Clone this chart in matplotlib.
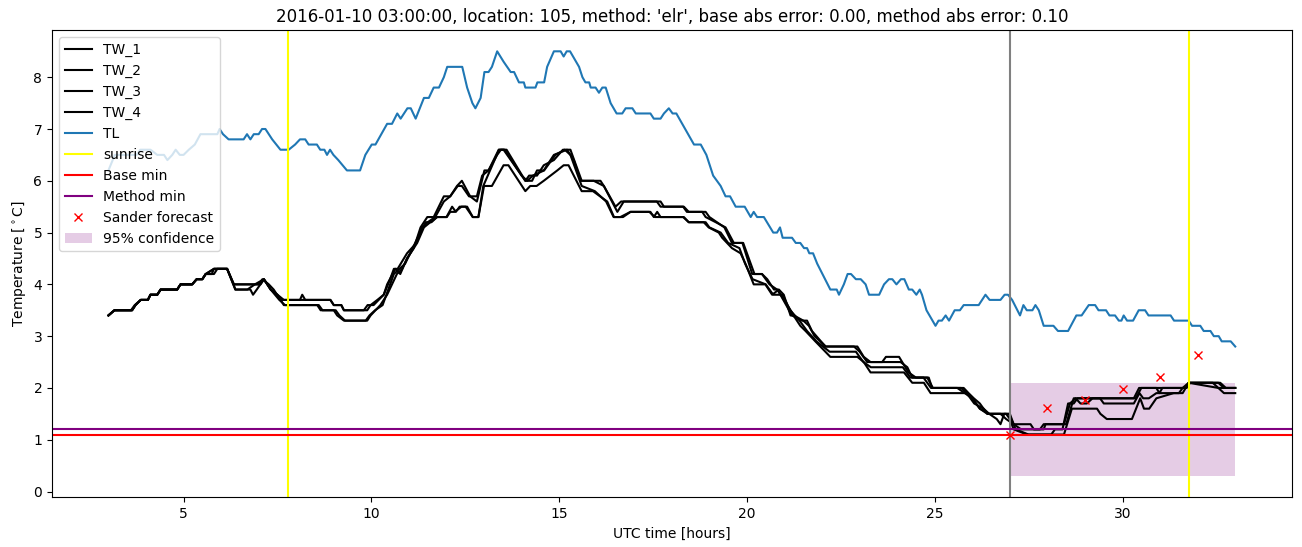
import matplotlib
matplotlib.use("Agg")
import matplotlib.pyplot as plt
from matplotlib.ticker import MultipleLocator

# TL (air temperature): hours, value
tl_hours = [3.0, 3.17, 3.75, 3.85, 4.12, 4.3, 4.48, 4.57, 4.7, 4.79, 4.9, 5.0, 5.14, 5.3, 5.45, 5.9, 5.96, 6.05,
            6.2, 6.6, 6.69, 6.78, 6.87, 7.0, 7.09, 7.18, 7.36, 7.58, 7.8, 7.97, 8.1, 8.24, 8.33, 8.55, 8.64, 8.75,
            8.82, 8.9, 8.99, 9.12, 9.35, 9.7, 9.84, 10.01, 10.11, 10.42, 10.55, 10.69, 10.78, 10.96, 11.05, 11.18,
            11.4, 11.53, 11.66, 11.8, 11.93, 12.02, 12.42, 12.55, 12.69, 12.77, 12.91, 13.01, 13.12, 13.21, 13.35,
            13.52, 13.71, 13.8, 13.93, 14.06, 14.1, 14.37, 14.42, 14.6, 14.68, 14.86, 15.04, 15.12, 15.2, 15.29,
            15.53, 15.62, 15.7, 15.8, 15.84, 15.97, 16.06, 16.15, 16.24, 16.37, 16.53, 16.68, 16.77, 16.95, 17.04,
            17.43, 17.52, 17.7, 17.79, 17.92, 18.02, 18.12, 18.59, 18.77, 18.92, 19.1, 19.3, 19.43, 19.55, 19.7,
            19.94, 20.1, 20.18, 20.27, 20.45, 20.7, 20.8, 20.88, 20.95, 21.2, 21.3, 21.42, 21.52, 21.6, 21.66,
            21.76, 21.87, 22.22, 22.39, 22.45, 22.58, 22.68, 22.77, 22.9, 23.03, 23.16, 23.25, 23.52, 23.65, 23.78,
            23.87, 23.98, 24.1, 24.19, 24.31, 24.4, 24.51, 24.6, 24.66, 24.78, 25.02, 25.1, 25.19, 25.29, 25.38,
            25.53, 25.67, 25.77, 26.17, 26.35, 26.46, 26.75, 26.86, 26.95, 27.06, 27.27, 27.36, 27.45, 27.6, 27.68,
            27.77, 27.9, 28.16, 28.28, 28.55, 28.77, 28.91, 29.1, 29.27, 29.36, 29.56, 29.65, 29.8, 29.9, 29.97,
            30.03, 30.12, 30.28, 30.43, 30.6, 30.69, 31.28, 31.37, 31.76, 31.85, 32.07, 32.16, 32.34, 32.43, 32.56,
            32.64, 32.88, 33.0]
tl_values = [6.2, 6.5, 6.5, 6.6, 6.6, 6.5, 6.5, 6.4, 6.5, 6.6, 6.5, 6.5, 6.6, 6.7, 6.9, 6.9, 7.0, 6.9,
             6.8, 6.8, 6.9, 6.8, 6.9, 6.9, 7.0, 7.0, 6.8, 6.6, 6.6, 6.7, 6.8, 6.8, 6.7, 6.7, 6.6, 6.6,
             6.5, 6.6, 6.5, 6.4, 6.2, 6.2, 6.5, 6.7, 6.7, 7.1, 7.1, 7.3, 7.2, 7.4, 7.4, 7.2,
             7.6, 7.6, 7.8, 7.8, 8.0, 8.2, 8.2, 7.8, 7.5, 7.4, 7.6, 8.1, 8.1, 8.2, 8.5,
             8.3, 8.1, 8.1, 7.9, 7.9, 7.8, 7.8, 7.9, 7.9, 8.2, 8.5, 8.5, 8.4, 8.5, 8.5,
             8.2, 8.0, 7.9, 7.9, 7.8, 7.8, 7.7, 7.8, 7.8, 7.5, 7.3, 7.3, 7.4, 7.4, 7.3,
             7.3, 7.2, 7.2, 7.3, 7.4, 7.3, 7.3, 6.7, 6.7, 6.5, 6.1, 5.9, 5.7, 5.7, 5.5,
             5.5, 5.3, 5.4, 5.3, 5.3, 5.0, 5.0, 5.1, 4.9, 4.9, 4.8, 4.8, 4.7, 4.7, 4.6,
             4.6, 4.4, 3.9, 3.9, 3.8, 4.0, 4.2, 4.2, 4.1, 4.1, 4.0, 3.8, 3.8, 4.0, 4.1,
             4.1, 4.0, 4.1, 4.1, 3.9, 3.9, 3.8, 3.9, 3.8, 3.5, 3.2, 3.3, 3.3, 3.4, 3.3,
             3.5, 3.5, 3.6, 3.6, 3.8, 3.7, 3.7, 3.8, 3.8, 3.7, 3.4, 3.6, 3.5, 3.5, 3.6,
             3.5, 3.2, 3.2, 3.1, 3.1, 3.4, 3.4, 3.6, 3.6, 3.5, 3.5, 3.4, 3.4, 3.3, 3.3,
             3.4, 3.3, 3.3, 3.5, 3.5, 3.4, 3.4, 3.3, 3.3, 3.2, 3.2, 3.1, 3.1, 3.0, 3.0,
             2.9, 2.9, 2.8]

# TW_1 .. TW_4 (road surface sensors)
tw1_hours = [3.0, 3.16, 3.63, 3.72, 3.86, 4.05, 4.12, 4.3, 4.39, 4.83, 4.92, 5.23, 5.35, 5.5, 5.59, 5.75, 5.81,
             6.16, 6.34, 7.05, 7.14, 7.32, 7.5, 7.67, 8.1, 8.16, 8.24, 8.91, 9.0, 9.2, 9.27, 9.89, 9.98, 10.16,
             10.33, 10.42, 10.64, 10.77, 10.95, 11.13, 11.31, 11.49, 11.66, 11.93, 12.1, 12.28, 12.41, 12.63,
             12.81, 13.01, 13.12, 13.39, 13.52, 14.1, 14.28, 14.41, 14.59, 14.86, 15.21, 15.39, 15.57, 15.92,
             16.19, 16.55, 16.72, 17.7, 17.79, 18.32, 18.45, 18.81, 18.9, 19.17, 19.43, 19.65, 19.88, 20.01,
             20.14, 20.4, 20.54, 20.72, 20.82, 20.89, 21.2, 21.47, 21.6, 21.73, 22.09, 22.94, 23.11, 23.29,
             24.09, 24.27, 24.4, 24.84, 24.93, 25.77, 25.9, 26.04, 26.2, 26.3, 26.4, 26.97, 27.1, 27.55, 27.64,
             27.9, 27.95, 28.44, 28.6, 28.75, 28.88, 29.05, 29.2, 30.3, 30.44, 30.9, 30.98, 31.06, 31.7, 31.76,
             32.55, 32.7, 33.0]
tw1_values = [3.4, 3.5, 3.5, 3.6, 3.7, 3.7, 3.8, 3.8, 3.9, 3.9, 4.0, 4.0, 4.1, 4.1, 4.2, 4.2, 4.3,
              4.3, 4.0, 4.0, 4.1, 3.9, 3.8, 3.7, 3.7, 3.8, 3.7, 3.7, 3.6, 3.6, 3.5, 3.5, 3.6, 3.7,
              3.8, 4.0, 4.3, 4.2, 4.5, 4.7, 5.1, 5.3, 5.3, 5.7, 5.7, 5.9, 6.0, 5.7,
              5.6, 6.2, 6.2, 6.6, 6.6, 6.0, 6.0, 6.2, 6.2, 6.5, 6.6, 6.4, 6.0, 6.0,
              5.9, 5.4, 5.6, 5.6, 5.5, 5.5, 5.4, 5.4, 5.3, 5.2, 5.1, 4.8, 4.8, 4.5,
              4.2, 4.2, 4.1, 3.9, 3.9, 3.8, 3.4, 3.3, 3.3, 3.1, 2.8, 2.8, 2.6, 2.5,
              2.5, 2.4, 2.2, 2.2, 2.0, 2.0, 1.9, 1.8, 1.7, 1.6, 1.5, 1.5, 1.3, 1.3, 1.2,
              1.2, 1.3, 1.3, 1.7, 1.8, 1.7, 1.7, 1.8, 1.8, 2.0, 2.0, 1.9, 2.0, 2.0, 2.1,
              2.1, 2.0, 2.0]

tw2_hours = [3.0, 3.16, 3.6, 3.7, 3.86, 4.05, 4.12, 4.3, 4.39, 4.83, 4.92, 5.23, 5.35, 5.5, 5.59, 5.81, 5.9,
             6.16, 6.34, 7.0, 7.1, 7.27, 7.4, 7.58, 8.3, 8.91, 9.0, 9.2, 9.27, 9.8, 9.9, 10.06, 10.33, 10.5,
             10.6, 10.7, 10.95, 11.2, 11.35, 11.5, 11.7, 11.93, 12.1, 12.3, 12.41, 12.6, 12.81, 12.95, 13.12,
             13.35, 13.45, 13.6, 14.1, 14.2, 14.41, 14.59, 14.86, 15.1, 15.3, 15.6, 16.1, 16.19, 16.5, 16.65,
             17.6, 17.7, 18.3, 18.4, 18.9, 19.0, 19.2, 19.4, 19.6, 19.9, 20.05, 20.2, 20.4, 20.6, 20.8, 20.9,
             21.25, 21.5, 21.65, 21.8, 22.1, 22.85, 23.0, 23.2, 23.6, 23.7, 24.05, 24.3, 24.5, 24.8, 24.95,
             25.6, 25.8, 26.0, 26.2, 26.45, 26.75, 26.9, 27.1, 27.3, 27.8, 27.9, 28.5, 28.7, 30.35, 30.5,
             31.7, 31.8, 32.6, 32.75, 33.0]
tw2_values = [3.4, 3.5, 3.5, 3.6, 3.7, 3.7, 3.8, 3.8, 3.9, 3.9, 4.0, 4.0, 4.1, 4.1, 4.2, 4.2, 4.3,
              4.3, 4.0, 4.0, 4.1, 4.0, 3.9, 3.7, 3.7, 3.7, 3.6, 3.6, 3.5, 3.5, 3.6, 3.6, 3.8, 4.1,
              4.3, 4.3, 4.6, 4.8, 5.1, 5.2, 5.3, 5.6, 5.7, 5.9, 5.9, 5.7, 5.7, 6.1, 6.2,
              6.5, 6.6, 6.6, 6.0, 6.1, 6.1, 6.3, 6.4, 6.6, 6.6, 6.0, 6.0, 5.9, 5.5, 5.6,
              5.6, 5.5, 5.5, 5.4, 5.4, 5.3, 5.2, 5.1, 4.8, 4.8, 4.5, 4.2, 4.2, 4.0, 3.9, 3.8,
              3.4, 3.3, 3.2, 3.0, 2.8, 2.8, 2.7, 2.5, 2.5, 2.6, 2.6, 2.3, 2.2, 2.2, 2.0,
              2.0, 1.9, 1.8, 1.6, 1.5, 1.5, 1.4, 1.3, 1.2, 1.2, 1.3, 1.3, 1.8, 1.8, 2.0,
              2.0, 2.1, 2.1, 2.0, 2.0]

tw3_hours = [3.0, 3.16, 3.63, 3.72, 3.86, 4.05, 4.12, 4.3, 4.39, 4.83, 4.92, 5.23, 5.35, 5.5, 5.59, 5.81, 6.16,
             6.38, 6.78, 6.85, 6.95, 7.14, 7.32, 7.5, 7.67, 8.56, 8.65, 9.0, 9.09, 9.27, 9.89, 9.98, 10.24,
             10.42, 10.55, 10.68, 10.82, 10.95, 11.22, 11.4, 11.57, 11.75, 12.01, 12.1, 12.22, 12.4, 12.51,
             12.7, 12.85, 13.0, 13.21, 13.52, 13.65, 14.1, 14.23, 14.4, 14.59, 14.95, 15.12, 15.25, 15.6, 15.9,
             16.28, 16.46, 16.63, 16.9, 17.43, 17.52, 17.61, 17.7, 18.32, 18.45, 18.85, 18.98, 19.25, 19.34,
             19.6, 19.83, 19.96, 20.18, 20.49, 20.67, 20.85, 20.98, 21.16, 21.24, 21.42, 21.56, 21.82, 22.22,
             22.94, 23.11, 23.29, 24.18, 24.4, 24.71, 24.89, 25.82, 26.0, 26.2, 26.4, 26.9, 27.0, 27.1, 27.46,
             28.44, 28.65, 29.32, 29.41, 29.58, 30.25, 30.47, 30.57, 30.71, 30.9, 31.36, 31.6, 31.76, 32.55,
             32.7, 33.0]
tw3_values = [3.4, 3.5, 3.5, 3.6, 3.7, 3.7, 3.8, 3.8, 3.9, 3.9, 4.0, 4.0, 4.1, 4.1, 4.2, 4.3, 4.3,
              3.9, 3.9, 3.8, 3.9, 4.1, 3.9, 3.8, 3.6, 3.6, 3.5, 3.5, 3.4, 3.3, 3.3, 3.4, 3.6,
              3.8, 4.0, 4.2, 4.3, 4.5, 4.8, 5.1, 5.2, 5.3, 5.3, 5.4, 5.4, 5.5, 5.5,
              5.3, 5.3, 5.9, 5.9, 6.3, 6.3, 5.8, 5.9, 5.9, 6.0, 6.2, 6.3, 6.3, 5.8, 5.8,
              5.6, 5.3, 5.3, 5.4, 5.4, 5.3, 5.4, 5.3, 5.3, 5.2, 5.2, 5.1, 5.0, 4.9,
              4.7, 4.6, 4.4, 4.0, 4.0, 3.8, 3.9, 3.8, 3.4, 3.4, 3.2, 3.1, 2.9, 2.6,
              2.6, 2.5, 2.3, 2.3, 2.1, 2.1, 1.9, 1.9, 1.8, 1.6, 1.5, 1.5, 1.4, 1.2, 1.1,
              1.1, 1.6, 1.6, 1.5, 1.4, 1.4, 1.8, 1.6, 1.6, 1.8, 1.9, 1.9, 2.1, 2.0,
              1.9, 1.9]

tw4_hours = [3.0, 3.16, 3.63, 3.72, 3.86, 4.05, 4.12, 4.3, 4.39, 4.83, 4.92, 5.23, 5.35, 5.5, 5.59, 5.81, 6.16,
             6.38, 6.7, 6.9, 7.14, 7.32, 7.55, 7.7, 8.6, 8.7, 9.05, 9.15, 9.3, 9.85, 9.95, 10.1, 10.3, 10.45,
             10.6, 10.75, 10.9, 11.1, 11.3, 11.45, 11.6, 11.75, 12.0, 12.15, 12.25, 12.35, 12.55, 12.7, 12.85,
             12.98, 13.1, 13.4, 13.55, 14.0, 14.15, 14.3, 14.6, 14.9, 15.15, 15.3, 15.6, 15.95, 16.25, 16.45,
             16.7, 16.9, 17.4, 17.55, 18.3, 18.45, 18.9, 19.0, 19.3, 19.5, 19.8, 19.95, 20.15, 20.5, 20.7,
             20.95, 21.15, 21.4, 21.6, 21.85, 22.2, 22.9, 23.1, 23.3, 24.15, 24.35, 24.7, 24.9, 25.7, 25.85,
             26.05, 26.3, 26.45, 26.65, 26.75, 26.85, 27.0, 27.15, 27.5, 28.1, 28.2, 28.4, 28.55, 28.7, 28.8,
             29.4, 29.5, 30.3, 30.45, 30.55, 30.7, 30.9, 31.5, 31.6, 31.76, 32.4, 32.55, 33.0]
tw4_values = [3.4, 3.5, 3.5, 3.6, 3.7, 3.7, 3.8, 3.8, 3.9, 3.9, 4.0, 4.0, 4.1, 4.1, 4.2, 4.3, 4.3,
              3.9, 3.9, 4.0, 4.1, 3.9, 3.7, 3.6, 3.6, 3.5, 3.5, 3.4, 3.3, 3.3, 3.4, 3.5, 3.6, 3.9,
              4.2, 4.3, 4.4, 4.7, 5.0, 5.2, 5.2, 5.3, 5.3, 5.5, 5.4, 5.5, 5.5, 5.3, 5.3,
              5.9, 6.1, 6.6, 6.6, 6.1, 6.0, 6.1, 6.2, 6.5, 6.6, 6.5, 5.9, 5.8, 5.6, 5.3,
              5.3, 5.4, 5.4, 5.3, 5.3, 5.2, 5.2, 5.1, 5.0, 4.8, 4.7, 4.4, 4.1, 4.0, 3.8,
              3.8, 3.5, 3.3, 3.1, 2.9, 2.7, 2.7, 2.5, 2.4, 2.4, 2.2, 2.2, 2.0, 2.0, 1.9,
              1.7, 1.6, 1.5, 1.4, 1.3, 1.5, 1.5, 1.2, 1.1, 1.1, 1.2, 1.2, 1.7, 1.7, 1.8,
              1.8, 1.7, 1.7, 1.9, 1.8, 1.8, 1.9, 1.9, 2.0, 2.1, 2.1, 2.0, 2.0]

sunrise_hours = [7.77, 31.76]
forecast_time = 27.0
base_min = 1.1
method_min = 1.2
sander_hours = [27, 28, 29, 30, 31, 32]
sander_values = [1.1, 1.62, 1.77, 1.98, 2.22, 2.64]
conf_hours = [27, 33]
conf_low = 0.3
conf_high = 2.1

fig, ax = plt.subplots(figsize=(13.02, 5.47), dpi=100)

tw_series = [(tw1_hours, tw1_values), (tw2_hours, tw2_values), (tw3_hours, tw3_values), (tw4_hours, tw4_values)]
for i, (h, v) in enumerate(tw_series):
    ax.plot(h, v, color='black', label=f'TW_{i + 1}')
ax.plot(tl_hours, tl_values, color='tab:blue', label='TL')

for i, s in enumerate(sunrise_hours):
    ax.axvline(s, color='yellow', label='sunrise' if i == 0 else None)
ax.axvline(forecast_time, color='gray')
ax.axhline(base_min, color='red', label='Base min')
ax.axhline(method_min, color='purple', label='Method min')
ax.plot(sander_hours, sander_values, 'x', color='red', label='Sander forecast')
ax.fill_between(conf_hours, conf_low, conf_high, color='purple', alpha=0.2, linewidth=0,
                label='95% confidence')

ax.yaxis.set_major_locator(MultipleLocator(1))
ax.set_xlabel('UTC time [hours]')
ax.set_ylabel(r'Temperature [$^\circ$C]')
ax.set_title("2016-01-10 03:00:00, location: 105, method: 'elr', base abs error: 0.00, method abs error: 0.10")
ax.legend(loc='upper left')

fig.subplots_adjust(left=0.040, right=0.992, bottom=0.091, top=0.945)
fig.savefig('out.png')
